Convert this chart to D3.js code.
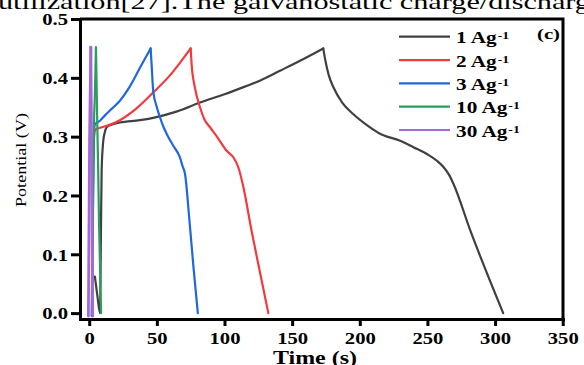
<!DOCTYPE html>
<meta charset="utf-8">
<head>
<style>
  body { margin: 0; background: #fff; }
  text { font-family: "Liberation Serif", "Times New Roman", serif; }
</style>
</head>
<body>
<div id="chart"></div>
<script src="https://d3js.org/d3.v7.min.js"></script>
<script>
// charge/discharge curves, time (s) and potential (V)
const t1 = [4.2, 6, 8, 8.6, 9.2, 10.4, 11.5, 12.9, 16, 22.7, 37.5, 47.3, 65, 81.9, 100, 115, 126, 141, 155.8, 173, 174.6, 177, 180.5, 187, 195.3, 205, 215, 229.8, 239.6, 250, 257, 262, 266, 269.2, 281.6, 306];
const v1 = [0.062, 0.03, 0.0, 0.12, 0.243, 0.293, 0.307, 0.316, 0.320, 0.324, 0.328, 0.332, 0.343, 0.358, 0.372, 0.385, 0.395, 0.412, 0.429, 0.45, 0.429, 0.405, 0.384, 0.358, 0.338, 0.32, 0.305, 0.293, 0.282, 0.270, 0.259, 0.248, 0.235, 0.22, 0.141, 0.0];

const t2 = [3, 3.6, 4.5, 8, 15, 22.7, 35, 47.3, 60, 75, 75.7, 78, 81.9, 85, 89.3, 95, 101.6, 106.5, 110.2, 114, 120, 126, 132.4];
const v2 = [0.265, 0.30, 0.312, 0.315, 0.32, 0.328, 0.348, 0.375, 0.405, 0.45, 0.423, 0.385, 0.35, 0.33, 0.316, 0.298, 0.276, 0.265, 0.248, 0.214, 0.14, 0.072, 0.0];

const t3 = [1.8, 2.6, 3.5, 4.2, 7.9, 12, 17, 22.7, 30, 37.5, 45.4, 46.2, 47.3, 50, 52.3, 55, 57.2, 62, 67, 69, 70.8, 74, 77, 80.3];
const v3 = [-0.005, 0.15, 0.30, 0.321, 0.327, 0.337, 0.348, 0.361, 0.385, 0.417, 0.45, 0.42, 0.378, 0.35, 0.333, 0.316, 0.305, 0.285, 0.265, 0.25, 0.237, 0.16, 0.08, 0.0];

const t10 = [2.3, 2.9, 3.4, 4.2, 5.0, 5.4, 5.9, 6.5, 7.3, 8.8];
const v10 = [0.0, 0.2, 0.31, 0.37, 0.452, 0.40, 0.33, 0.26, 0.15, 0.0];

const t30 = [-0.6, 0.3, 1.2, 1.7, 2.6];
const v30 = [-0.005, 0.30, 0.452, 0.30, -0.005];

const seriesNames = ["1", "2", "3", "10", "30"];
const seriesColors = ["#404040", "#f03a3f", "#1f68dc", "#2a9e5c", "#a668d8"];
const xTicks = [0, 50, 100, 150, 200, 250, 300, 350];
const yTicks = [0.0, 0.1, 0.2, 0.3, 0.4, 0.5];

const W = 584, H = 365;
const k = 1.25; // the figure's text is drawn wide

const svg = d3.select("#chart").append("svg")
  .attr("width", W).attr("height", H);

// widen a text to k times its natural length
function stretch(sel, f) {
  sel.each(function () {
    const w = this.getComputedTextLength();
    d3.select(this).attr("textLength", w * (f || k)).attr("lengthAdjust", "spacingAndGlyphs");
  });
}

// cut-off sentence above the figure
svg.append("text")
  .attr("x", -2).attr("y", 9)
  .style("font-size", "22px")
  .attr("textLength", 592).attr("lengthAdjust", "spacingAndGlyphs")
  .text("utilization[27].The galvanostatic charge/discharg");

const x = d3.scaleLinear().domain([-6.8, 350.2]).range([80, 563]);
const y = d3.scaleLinear().domain([-0.01, 0.5]).range([319, 19]);

const line = d3.line()
  .x(d => x(d[0]))
  .y(d => y(d[1]))
  .curve(d3.curveMonotoneX);

const series = [
  {t: t1, v: v1}, {t: t2, v: v2}, {t: t3, v: v3}, {t: t10, v: v10}, {t: t30, v: v30}
];

series.forEach((s, i) => {
  const pts = d3.zip(s.t, s.v);
  const peak = d3.maxIndex(s.v);
  // charge and discharge drawn apart so the turn stays sharp
  [pts.slice(0, peak + 1), pts.slice(peak)].forEach(part => {
    svg.append("path")
      .datum(part)
      .attr("d", line)
      .attr("fill", "none")
      .attr("stroke", seriesColors[i])
      .attr("stroke-width", i == 4 ? 2.8 : 2.2)
      .attr("stroke-linejoin", "round")
      .attr("stroke-linecap", "round");
  });
});

// frame top and right
svg.append("path")
  .attr("d", `M${x.range()[0]},${y.range()[1]}H${x.range()[1]}V${y.range()[0]}`)
  .attr("fill", "none").attr("stroke", "#000").attr("stroke-width", 3);

// axes
const xAxis = svg.append("g")
  .attr("transform", `translate(0,${y.range()[0]})`)
  .call(d3.axisBottom(x).tickValues(xTicks).tickSize(7).tickSizeOuter(0).tickFormat(d3.format("d")));
const yAxis = svg.append("g")
  .attr("transform", `translate(${x.range()[0]},0)`)
  .call(d3.axisLeft(y).tickValues(yTicks).tickSize(9).tickSizeOuter(0).tickFormat(d3.format(".1f")));

[xAxis, yAxis].forEach(g => {
  g.select(".domain").attr("stroke-width", 3).attr("stroke-linecap", "square");
  g.selectAll(".tick line").attr("stroke-width", 3);
  g.selectAll("text")
    .attr("fill", "#000")
    .style("font-family", '"Liberation Serif", serif')
    .style("font-weight", "bold")
    .style("font-size", "16.5px");
});
xAxis.selectAll("text").attr("y", 25).attr("dy", 0);
yAxis.selectAll("text").attr("x", -12).attr("dy", "0.35em");
stretch(xAxis.selectAll("text"));
stretch(yAxis.selectAll("text"));

// axis titles
svg.append("text")
  .attr("x", 315).attr("y", 364)
  .attr("text-anchor", "middle")
  .style("font-size", "18px").style("font-weight", "bold")
  .attr("textLength", 84).attr("lengthAdjust", "spacingAndGlyphs")
  .text("Time (s)");

svg.append("text")
  .attr("transform", "translate(26,160) rotate(-90)")
  .attr("text-anchor", "middle")
  .style("font-size", "15px")
  .attr("textLength", 94).attr("lengthAdjust", "spacingAndGlyphs")
  .text("Potential (V)");

// legend
const leg = svg.append("g");
seriesNames.forEach((n, i) => {
  const ly = 36.7 + i * 23.33;
  leg.append("line")
    .attr("x1", 399).attr("x2", 450).attr("y1", ly).attr("y2", ly)
    .attr("stroke", seriesColors[i]).attr("stroke-width", 2.2);
  const lab = leg.append("text")
    .attr("x", 456).attr("y", ly + 6.5)
    .style("font-size", "17px").style("font-weight", "bold")
    .text(n + " Ag");
  stretch(lab);
  const w = +lab.attr("textLength");
  const sup = leg.append("text")
    .attr("x", 456 + w + 1).attr("y", ly + 2.5)
    .style("font-size", "11px").style("font-weight", "bold")
    .text("-1");
  stretch(sup);
});

svg.append("text")
  .attr("x", 537).attr("y", 38.5)
  .style("font-size", "15px").style("font-weight", "bold")
  .attr("textLength", 23).attr("lengthAdjust", "spacingAndGlyphs")
  .text("(c)");
</script>
</body>
